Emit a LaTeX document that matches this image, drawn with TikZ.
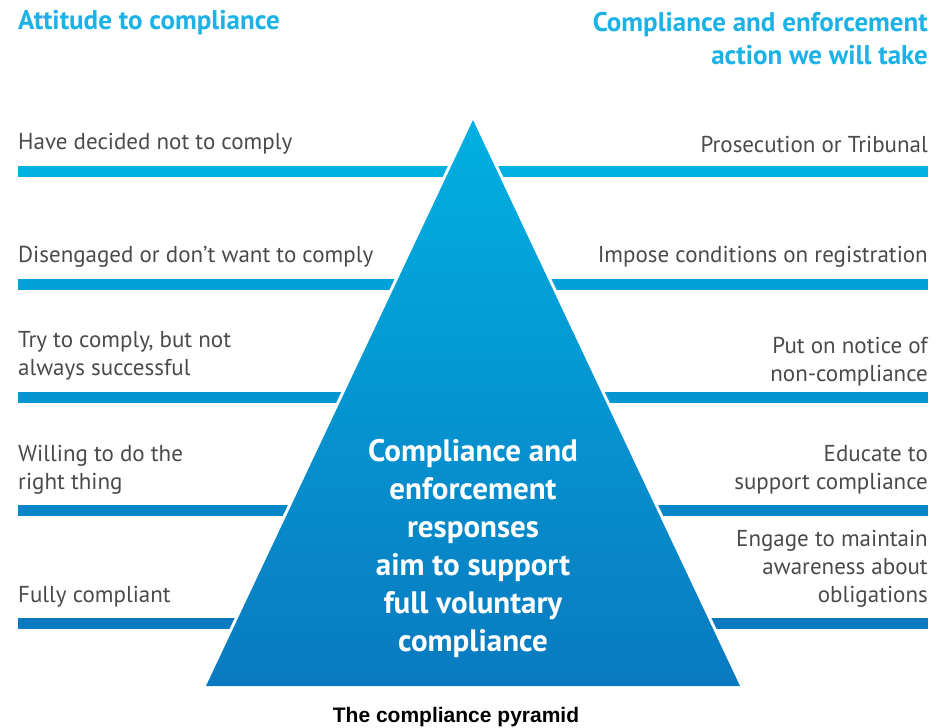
\documentclass[tikz,border=0pt]{standalone}
\usepackage{fontspec}
\setmainfont{PT Sans}
\newfontfamily\capfont{Liberation Sans}
\usepackage{xcolor}
\usepackage{tikz}
\usetikzlibrary{positioning,calc}
\definecolor{cphead}{HTML}{1CB2E6}
\definecolor{cptext}{HTML}{4A4A4A}
\definecolor{cptop}{HTML}{00B0E1}
\definecolor{cpbot}{HTML}{0A7AC0}

\begin{document}
\begin{tikzpicture}[
  x=1pt, y=-1pt,
  head/.style={font=\fontsize{27}{33}\selectfont\bfseries, text=cphead, inner sep=0pt},
  lefttxt/.style={anchor=west, align=left, font=\fontsize{23}{28}\selectfont, text=cptext, inner sep=0pt},
  righttxt/.style={anchor=east, align=right, font=\fontsize{23}{28}\selectfont, text=cptext, inner sep=0pt},
  bar/.style={fill=#1},
  core/.style={align=center, text=white, font=\fontsize{31}{38}\selectfont\bfseries, inner sep=0pt}
]
\useasboundingbox (0,0) rectangle (937,728);
% headings
\node[head, anchor=west] (hleft) at (18,23) {Attitude to compliance};
\node[head, anchor=east, align=right] (hright) at (928,39) {Compliance and enforcement\\action we will take};
% bars
\fill[bar=cptop] (18,166) rectangle (928,177);
\fill[bar=cpbot!25!cptop] (18,279) rectangle (928,290);
\fill[bar=cpbot!50!cptop] (18,392) rectangle (928,403);
\fill[bar=cpbot!75!cptop] (18,505) rectangle (928,516);
\fill[bar=cpbot] (18,618) rectangle (928,629);
% pyramid
\coordinate (apex) at (473,120);
\coordinate (bl) at (206,686);
\coordinate (br) at (740,686);
\filldraw[white, line width=6pt] (apex) -- (bl) -- (br) -- cycle;
\shade[top color=cptop, bottom color=cpbot] (apex) -- (bl) -- (br) -- cycle;
\node[core] (aim) at (473,549) {Compliance and\\enforcement\\responses\\aim to support\\full voluntary\\compliance};
% attitudes
\node[lefttxt] (a1) at (18,144) {Have decided not to comply};
\node[lefttxt] (a2) at (18,257) {Disengaged or don’t want to comply};
\node[lefttxt] (a3) at (18,356) {Try to comply, but not\\always successful};
\node[lefttxt] (a4) at (18,470) {Willing to do the\\right thing};
\node[lefttxt] (a5) at (18,597) {Fully compliant};
% actions
\node[righttxt] (r1) at (928,144) {Prosecution or Tribunal};
\node[righttxt] (r2) at (928,257) {Impose conditions on registration};
\node[righttxt] (r3) at (928,362) {Put on notice of\\non-compliance};
\node[righttxt] (r4) at (928,470) {Educate to\\support compliance};
\node[righttxt] (r5) at (928,569) {Engage to maintain\\awareness about\\obligations};
% caption
\node[font=\capfont\fontsize{21}{24}\selectfont\bfseries, inner sep=0pt] (cap) at (456,717) {The compliance pyramid};
\end{tikzpicture}
\end{document}
